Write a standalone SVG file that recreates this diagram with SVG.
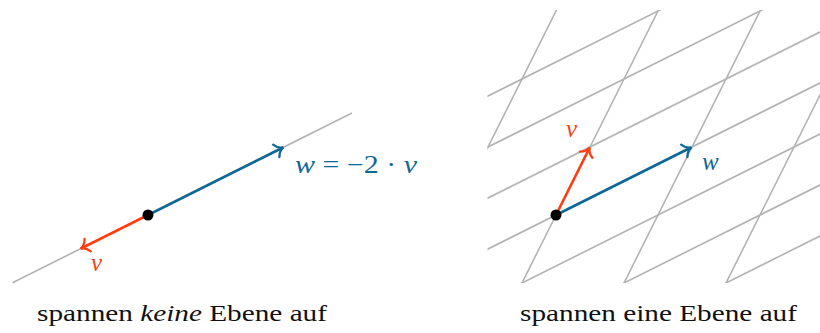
<svg xmlns="http://www.w3.org/2000/svg" width="820" height="333" viewBox="0 0 820 333">
<style>
.grid{stroke:#b3b3b3;stroke-width:1.6;fill:none}
.vr{stroke:#ff3e10;stroke-width:2.6;fill:none}
.vb{stroke:#0f6896;stroke-width:2.6;fill:none}
</style>
<defs>
<marker id="ar" markerUnits="userSpaceOnUse" markerWidth="20" markerHeight="20" viewBox="-10 -10 20 20" refX="0" refY="0" orient="auto" overflow="visible">
<path d="M-7.5,-7 C-5.5,-2.7 -2.7,-0.7 0.5,0 C-2.7,0.7 -5.5,2.7 -7.5,7" fill="none" stroke="#ff3e10" stroke-width="2.3" stroke-linecap="round"/>
</marker>
<marker id="ab" markerUnits="userSpaceOnUse" markerWidth="20" markerHeight="20" viewBox="-10 -10 20 20" refX="0" refY="0" orient="auto" overflow="visible">
<path d="M-7.5,-7 C-5.5,-2.7 -2.7,-0.7 0.5,0 C-2.7,0.7 -5.5,2.7 -7.5,7" fill="none" stroke="#0f6896" stroke-width="2.3" stroke-linecap="round"/>
</marker>
<clipPath id="clip"><rect x="487.5" y="10" width="333" height="273"/></clipPath>
</defs>

<g id="left-panel" font-family="Liberation Serif">
<line id="span-line" class="grid" x1="12.5" y1="282.75" x2="352" y2="113"/>
<g id="connectors-left">
<line class="vb" x1="148" y1="215" x2="283" y2="147.5" marker-end="url(#ab)"/>
<line class="vr" x1="148" y1="215" x2="81" y2="248.5" marker-end="url(#ar)"/>
</g>
<g id="origin-left"><circle cx="148" cy="215" r="5.5" fill="#000"/></g>
<g id="label-w-left"><text font-size="25" font-style="italic" x="295" y="173" fill="#0f6896" textLength="122" lengthAdjust="spacingAndGlyphs">w<tspan font-style="normal"> = −2 · </tspan>v</text></g>
<g id="label-v-left"><text font-size="25" font-style="italic" x="91" y="271" fill="#ff3e10">v</text></g>
<g id="caption-left"><text font-size="24" x="37" y="321" fill="#111" textLength="290" lengthAdjust="spacingAndGlyphs">spannen <tspan font-style="italic">keine</tspan> Ebene auf</text></g>
</g>

<g id="right-panel" font-family="Liberation Serif">
<g id="lattice" clip-path="url(#clip)">
<line class="grid" x1="420" y1="436" x2="900" y2="196"/>
<line class="grid" x1="420" y1="385" x2="900" y2="145"/>
<line class="grid" x1="420" y1="334" x2="900" y2="94"/>
<line class="grid" x1="420" y1="283" x2="900" y2="43"/>
<line class="grid" x1="420" y1="232" x2="900" y2="-8"/>
<line class="grid" x1="420" y1="181" x2="900" y2="-59"/>
<line class="grid" x1="420" y1="130" x2="900" y2="-110"/>
<line class="grid" x1="561.5" y1="0" x2="411.5" y2="300"/>
<line class="grid" x1="663.5" y1="0" x2="513.5" y2="300"/>
<line class="grid" x1="765.5" y1="0" x2="615.5" y2="300"/>
<line class="grid" x1="867.5" y1="0" x2="717.5" y2="300"/>
</g>
<g id="connectors-right">
<line class="vb" x1="556" y1="215" x2="691" y2="147.5" marker-end="url(#ab)"/>
<line class="vr" x1="556" y1="215" x2="589.5" y2="148" marker-end="url(#ar)"/>
</g>
<g id="origin-right"><circle cx="556" cy="215" r="5.5" fill="#000"/></g>
<g id="label-v-right"><text font-size="25" font-style="italic" x="566" y="137" fill="#ff3e10">v</text></g>
<g id="label-w-right"><text font-size="25" font-style="italic" x="702" y="170" fill="#0f6896">w</text></g>
<g id="caption-right"><text font-size="24" x="520" y="321" fill="#111" textLength="277" lengthAdjust="spacingAndGlyphs">spannen eine Ebene auf</text></g>
</g>
</svg>
